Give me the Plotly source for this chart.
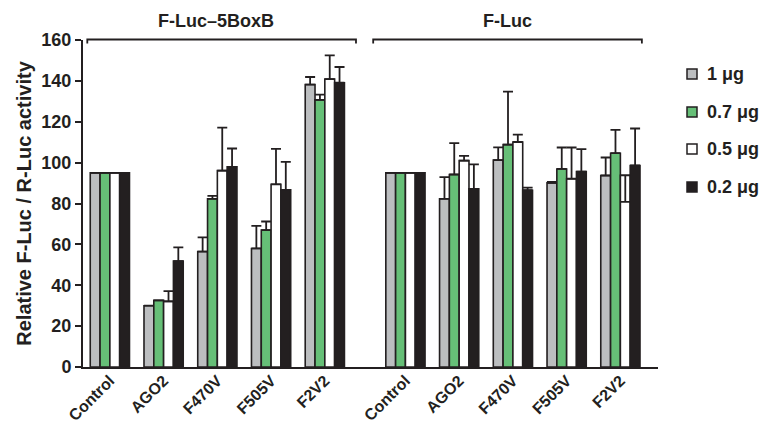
import plotly.graph_objects as go

categories = ["Control", "AGO2", "F470V", "F505V", "F2V2",
              "Control", "AGO2", "F470V", "F505V", "F2V2"]
x_pos = [0, 1, 2, 3, 4, 5.5, 6.5, 7.5, 8.5, 9.5]

series_names = ["1 μg", "0.7 μg", "0.5 μg", "0.2 μg"]
vals_1 = [95, 30.0, 56.5, 58.0, 138.2, 95, 82.3, 101.2, 90.1, 93.7]
vals_07 = [95, 32.6, 82.3, 67.0, 130.7, 95, 94.2, 108.8, 96.9, 104.6]
vals_05 = [95, 32.1, 96.1, 89.4, 140.9, 95, 101.0, 110.1, 92.1, 93.8]
vals_02 = [95, 51.8, 97.9, 86.7, 139.1, 95, 87.2, 86.5, 95.6, 98.6]

err_up_1 = [0, 0, 6.9, 11.1, 3.7, 0, 10.6, 6.3, 0.5, 8.8]
err_up_07 = [0, 0, 1.4, 4.2, 2.6, 0, 15.3, 25.9, 10.5, 11.4]
err_up_05 = [0, 5.0, 21.0, 17.3, 11.6, 0, 2.3, 3.6, 15.3, 0]
err_dn_05 = [0, 0, 0, 0, 0, 0, 0, 0, 0, 13.0]
err_up_02 = [0, 6.7, 9.0, 13.7, 7.7, 0, 11.9, 1.3, 11.0, 18.1]

colors = ["#BCBEC0", "#66BF77", "#FFFFFF", "#231F20"]
values = [vals_1, vals_07, vals_05, vals_02]
errs_up = [err_up_1, err_up_07, err_up_05, err_up_02]
errs_dn = [[0] * 10, [0] * 10, err_dn_05, [0] * 10]

group_labels = ["F-Luc–5BoxB", "F-Luc"]
y_ticks = [0, 20, 40, 60, 80, 100, 120, 140, 160]

FONT = "Arial, Liberation Sans, sans-serif"
INK = "#231F20"
XMIN, XMAX = -0.5, 10.2
W, H = 762, 428
ML, MR, MT, MB = 83, 104, 40, 61
PW, PH = W - ML - MR, H - MT - MB

fig = go.Figure()
for i in range(4):
    fig.add_trace(go.Bar(
        x=x_pos, y=values[i], name=series_names[i],
        marker=dict(color=colors[i], line=dict(color=INK, width=1.6)),
        error_y=dict(type="data", symmetric=False, array=errs_up[i],
                     arrayminus=errs_dn[i], color=INK,
                     thickness=1.8, width=5),
        showlegend=False,
    ))


def xp(v):
    return (v - XMIN) / (XMAX - XMIN)


def px_x(p):
    return (p - ML) / PW


def px_y(p):
    return (H - MB - p) / PH


shapes = []
annotations = []

# group brackets
brackets = [(-0.42, 4.58), (4.9, 9.9)]
centers = [1.98, 7.39]
y_top = px_y(39.5)
y_end = px_y(43.5)
for (a, b) in brackets:
    shapes.append(dict(type="path", xref="paper", yref="paper",
                       path=f"M {xp(a)} {y_end} L {xp(a)} {y_top} L {xp(b)} {y_top} L {xp(b)} {y_end}",
                       line=dict(color=INK, width=1.8)))
for lbl, c in zip(group_labels, centers):
    annotations.append(dict(text=f"<b>{lbl}</b>", x=c, xref="x", y=px_y(21), yref="paper",
                            showarrow=False, font=dict(size=18, family=FONT, color=INK),
                            xanchor="center", yanchor="middle"))

# legend (drawn manually so it can sit at the right edge like the original)
leg_y = [74, 112, 149, 187]
for i in range(4):
    cy = leg_y[i]
    shapes.append(dict(type="rect", xref="paper", yref="paper",
                       x0=px_x(687), x1=px_x(697), y0=px_y(cy + 5), y1=px_y(cy - 5),
                       fillcolor=colors[i], line=dict(color=INK, width=1.5)))
    annotations.append(dict(text=f"<b>{series_names[i]}</b>", x=px_x(705), xref="paper",
                            y=px_y(cy), yref="paper", showarrow=False,
                            xanchor="left", yanchor="middle",
                            font=dict(size=18, family=FONT, color=INK)))

fig.update_layout(
    width=W, height=H,
    margin=dict(l=ML, r=MR, t=MT, b=MB),
    plot_bgcolor="white", paper_bgcolor="white",
    barmode="group", bargap=0.27, bargroupgap=0,
    font=dict(family=FONT, color=INK, weight="bold"),
    shapes=shapes, annotations=annotations,
    showlegend=False,
)
fig.update_xaxes(range=[XMIN, XMAX], tickvals=x_pos, ticktext=categories,
                 tickangle=-45, showline=True, linecolor=INK, linewidth=2,
                 ticks="", showgrid=False, zeroline=False, automargin=False,
                 ticklabelstandoff=-4,
                 tickfont=dict(size=16, family=FONT, weight="bold", color=INK))
fig.update_yaxes(range=[0, 160], tickvals=y_ticks, showline=True, linecolor=INK,
                 linewidth=2, ticks="outside", ticklen=6, tickwidth=2,
                 tickcolor=INK, showgrid=False, zeroline=False, automargin=False,
                 tickfont=dict(size=18, family=FONT, weight="bold", color=INK),
                 title=dict(text="Relative F-Luc / R-Luc activity",
                            font=dict(size=20, family=FONT, weight="bold", color=INK),
                            standoff=4))

fig.write_html("out.html", config={"displayModeBar": False},
               post_script="document.body.style.margin='0';")
